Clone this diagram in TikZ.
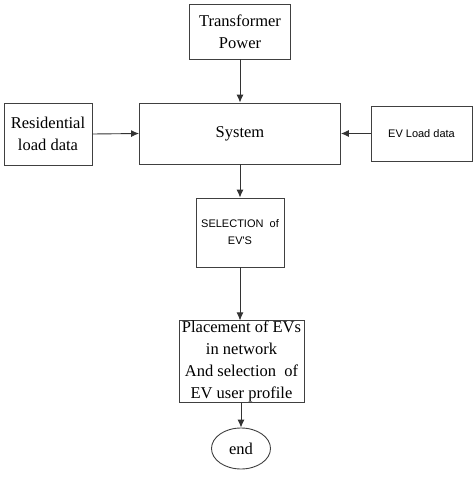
\documentclass[tikz,border=0pt]{standalone}
\usepackage{fontspec}
\setmainfont{Liberation Serif}
\newfontfamily\arialfont{Liberation Sans}
\usetikzlibrary{arrows.meta,shapes.geometric}
\begin{document}
\begin{tikzpicture}[x=1pt,y=-1pt,
  box/.style={draw=black!75,line width=0.9pt,inner sep=0pt,align=center,
    font=\fontsize{16.5}{22}\selectfont},
  sbox/.style={box,font=\arialfont\fontsize{11}{17}\selectfont},
  conn/.style={draw=black!80,line width=0.9pt,-{Latex[length=8pt,width=7pt]}}]
\useasboundingbox (0,0) rectangle (474,480);
\node[box,minimum width=101pt,minimum height=55pt] (tp) at (240,31.5) {Transformer\\Power};
\node[box,minimum width=201pt,minimum height=61pt] (sys) at (240,133.5) {System};
\node[box,minimum width=88pt,minimum height=62pt] (res) at (48,134) {Residential\\load data};
\node[sbox,minimum width=101pt,minimum height=55pt] (ev) at (421.5,133.5) {EV Load data};
\node[sbox,minimum width=88pt,minimum height=69pt] (sel) at (240,232.5) {SELECTION\ \ of\\EV'S};
\node[box,minimum width=125pt,minimum height=81pt] (pl) at (241.5,361.5) {Placement of EVs\\in network\\And selection\ \ of\\EV user profile};
\node[box,ellipse,minimum width=59pt,minimum height=41pt] (end) at (241,448.5) {end};
\draw[conn] (tp.south) -- (sys.north);
\draw[conn] (res.east) -- (sys.west);
\draw[conn] (ev.west) -- (sys.east);
\draw[conn] (sys.south) -- (sel.north);
\draw[conn] (sel.south) -- (sel.south |- pl.north);
\draw[conn] (end.north |- pl.south) -- (end.north);
\end{tikzpicture}
\end{document}
